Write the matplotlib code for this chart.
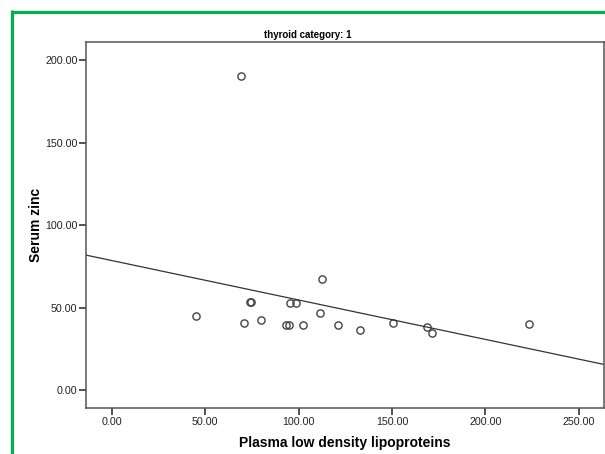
import numpy as np
import matplotlib
matplotlib.use("Agg")
import matplotlib.pyplot as plt
from matplotlib.lines import Line2D

plt.rcParams['font.family'] = ['Liberation Sans', 'DejaVu Sans']

# Data
ldl = [69.4, 45.0, 70.9, 74.0, 74.6, 79.7, 93.2, 94.7, 95.4, 98.4, 102.5,
       111.3, 112.5, 121.1, 133.1, 150.4, 169.0, 171.5, 223.6]
zinc = [190.1, 45.0, 40.8, 53.3, 53.3, 42.8, 39.6, 39.6, 52.7, 52.9, 39.4,
        46.9, 67.1, 39.4, 36.8, 41.0, 38.4, 34.5, 40.2]
xticks = [0, 50, 100, 150, 200, 250]
yticks = [0, 50, 100, 150, 200]
title = "thyroid category: 1"
xlabel = "Plasma low density lipoproteins"
ylabel = "Serum zinc"

W, H = 605, 454
fig = plt.figure(figsize=(W / 100, H / 100), dpi=100)
ax_l, ax_r, ax_t, ax_b = 86, 604, 41.7, 408.3
ax = fig.add_axes([ax_l / W, 1 - ax_b / H, (ax_r - ax_l) / W, (ax_b - ax_t) / H])

xmin, xmax = -13.8, 263.5
ymin, ymax = -10.9, 211.1
ax.set_xlim(xmin, xmax)
ax.set_ylim(ymin, ymax)

ax.plot(ldl, zinc, linestyle='none', marker='o', markersize=5.2,
        markerfacecolor='none', markeredgecolor='#444444', markeredgewidth=1.0)

slope, intercept = np.polyfit(ldl, zinc, 1)
xs = np.array([xmin, xmax])
ax.plot(xs, intercept + slope * xs, color='#333333', linewidth=0.9)

ax.set_xticks(xticks)
ax.set_xticklabels([f"{v:.2f}" for v in xticks])
ax.set_yticks(yticks)
ax.set_yticklabels([f"{v:.2f}" for v in yticks])
ax.tick_params(direction='out', length=5, width=1.2, color='#333333',
               labelsize=7.7, labelcolor='#222222', pad=1.2)
for s in ax.spines.values():
    s.set_color('#555555')
    s.set_linewidth(1.1)

ax.set_xlabel(xlabel, fontsize=10, fontweight='bold')
ax.xaxis.set_label_coords(0.5, -(442.7 - ax_b) / (ax_b - ax_t), transform=ax.transAxes)
ax.xaxis.label.set_va('center')
ax.set_ylabel(ylabel, fontsize=10, fontweight='bold')
ax.yaxis.set_label_coords(-(ax_l - 36.5) / (ax_r - ax_l), 0.5, transform=ax.transAxes)
ax.yaxis.label.set_va('center')
fig.text(308 / W, 1 - 34.5 / H, title, ha='center', va='center',
         fontsize=7, fontweight='bold')

green = '#00b050'
fig.add_artist(Line2D([12 / W, 1.0], [1 - 11.5 / H, 1 - 11.5 / H],
                      transform=fig.transFigure, color=green, linewidth=2.3,
                      solid_capstyle='butt'))
fig.add_artist(Line2D([12 / W, 12 / W], [0, 1 - 10.3 / H],
                      transform=fig.transFigure, color=green, linewidth=2.3,
                      solid_capstyle='butt'))

fig.savefig("out.png", dpi=100)
